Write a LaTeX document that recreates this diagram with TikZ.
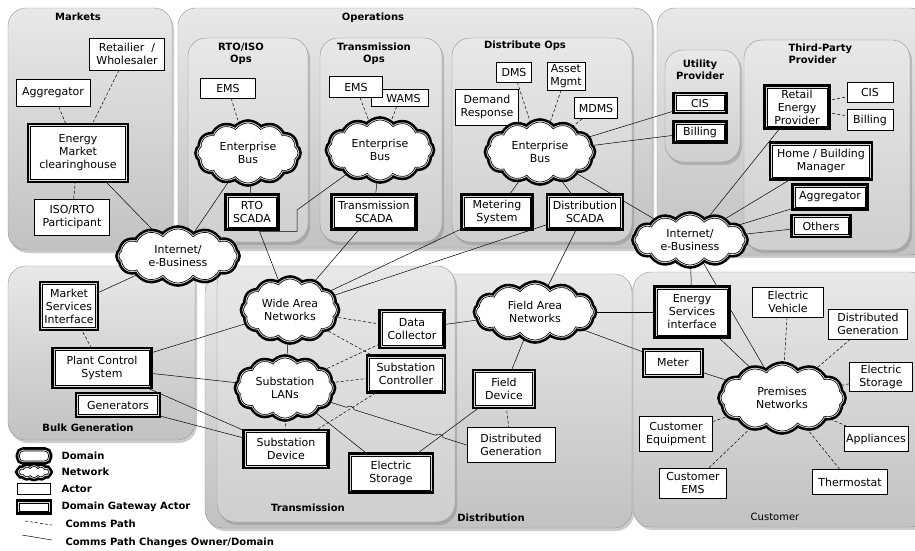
\documentclass[tikz,border=0pt]{standalone}
\usepackage{fontspec}
\setmainfont{DejaVu Sans}
\usetikzlibrary{shapes.symbols,shadows,calc}
\pgfdeclarelayer{domains}
\pgfdeclarelayer{paths}
\pgfsetlayers{domains,paths,main}
\begin{document}
\begin{tikzpicture}[x=1pt,y=-1pt,
    font=\fontsize{11}{13}\selectfont,
    domainbox/.style={rounded corners=18pt,draw=gray!85,top color=gray!18,bottom color=gray!48,
      drop shadow={opacity=.4,shadow xshift=2pt,shadow yshift=-3pt}},
    subbox/.style={domainbox,top color=gray!18,bottom color=gray!38},
    domaintitle/.style={font=\fontsize{10}{12}\selectfont\bfseries,align=center},
    sz/.style 2 args={minimum width=#1pt,minimum height=#2pt},
    actorbox/.style={draw,fill=white,align=center,inner sep=1pt,line width=.6pt},
    gatewaybox/.style={actorbox,preaction={draw,line width=7.6pt},preaction={draw,gray!30,line width=2.4pt}},
    netcloud/.style={gatewaybox,cloud,cloud puffs=12,cloud puff arc=110,cloud ignores aspect,inner sep=0pt},
    commspath/.style={densely dashed,line width=.5pt},
    ownerpath/.style={line width=.5pt}]
  \useasboundingbox (0,0) rectangle (915,550);
  \begin{pgfonlayer}{domains}
    \fill[white] (0,0) rectangle (915,550);
    \path[domainbox] (8,8) rectangle (172,250);
    \path[domainbox] (178,8) rectangle (652,248);
    \path[subbox] (188,38) rectangle (308,242);
    \path[subbox] (320,38) rectangle (442,242);
    \path[subbox] (452,38) rectangle (632,242);
    \path[domainbox] (657,8) rectangle (928,255);
    \path[subbox] (665,50) rectangle (740,162);
    \path[subbox] (744,40) rectangle (910,250);
    \path[domainbox] (8,266) rectangle (195,440);
    \path[domainbox] (205,274) rectangle (632,528);
    \path[subbox] (217,266) rectangle (455,522);
    \path[domainbox] (633,272) rectangle (928,527);
  \end{pgfonlayer}
  \node[domaintitle] at (78,17) {Markets};
  \node[domaintitle] at (373,18) {Operations};
  \node[domaintitle] at (241,54) {RTO/ISO\\Ops};
  \node[domaintitle] at (374,54) {Transmission\\Ops};
  \node[domaintitle] at (525,46) {Distribute Ops};
  \node[domaintitle] at (700,70) {Utility\\Provider};
  \node[domaintitle,align=left,anchor=west] at (785,54) {Third-Party\\Provider};
  \node[domaintitle] at (88,428) {Bulk Generation};
  \node[domaintitle] at (308,508) {Transmission};
  \node[domaintitle] at (491,518) {Distribution};
  \node[font=\fontsize{10}{12}\selectfont] at (775,517) {Customer};
  % markets
  \node[actorbox,sz={75}{32}] (retailer) at (127,54) {Retailier\ \ /\\Wholesaler};
  \node[actorbox,sz={74}{27}] (magg) at (53,93) {Aggregator};
  \node[gatewaybox,sz={95}{53}] (emc) at (78,153) {Energy\\Market\\clearinghouse};
  \node[actorbox,sz={75}{36}] (isorto) at (72,217) {ISO/RTO\\Participant};
  % operations
  \node[actorbox,sz={55}{20}] (rems) at (228,88) {EMS};
  \node[netcloud,sz={100}{60}] (rbus) at (248,153) {Enterprise\\Bus};
  \node[gatewaybox,sz={48}{30}] (rscada) at (252,212) {RTO\\SCADA};
  \node[actorbox,sz={57}{17}] (wams) at (400,98) {\ \ WAMS};
  \node[actorbox,sz={53}{21}] (tems) at (356,87) {EMS};
  \node[netcloud,sz={103}{60}] (tbus) at (380,150) {Enterprise\\Bus};
  \node[gatewaybox,sz={80}{30}] (tscada) at (374,212) {Transmission\\SCADA};
  \node[actorbox,sz={35}{20}] (dms) at (514,72) {DMS};
  \node[actorbox,sz={38}{28}] (asset) at (566,76) {Asset\\Mgmt};
  \node[actorbox,sz={63}{36}] (dr) at (487,107) {Demand\\Response};
  \node[actorbox,sz={43}{21}] (mdms) at (596,108) {MDMS};
  \node[netcloud,sz={105}{60}] (dbus) at (540,152) {Enterprise\\Bus};
  \node[gatewaybox,sz={66}{30}] (metering) at (497,212) {Metering\\System};
  \node[gatewaybox,sz={71}{30}] (dscada) at (585,212) {Distribution\\SCADA};
  % service providers
  \node[gatewaybox,sz={48}{15}] (ucis) at (700,103) {CIS};
  \node[gatewaybox,sz={48}{16}] (ubill) at (700,132) {Billing};
  \node[gatewaybox,sz={60}{38}] (rep) at (797,107) {Retail\\Energy\\Provider};
  \node[actorbox,sz={46}{20}] (tcis) at (870,92) {CIS};
  \node[actorbox,sz={46}{21}] (tbill) at (870,120) {Billing};
  \node[gatewaybox,sz={97}{32}] (hbm) at (821,161) {Home / Building\\Manager};
  \node[gatewaybox,sz={70}{20}] (tagg) at (830,197) {Aggregator};
  \node[gatewaybox,sz={54}{17}] (others) at (821,226) {Others};
  \node[netcloud,sz={110}{50}] (rnet) at (690,240) {Internet/\\e-Business};
  \node[netcloud,sz={118}{54}] (lnet) at (178,256) {Internet/\\e-Business};
  % bulk generation
  \node[gatewaybox,sz={53}{43}] (msi) at (69,306) {Market\\Services\\Interface};
  \node[gatewaybox,sz={94}{35}] (pcs) at (102,368) {Plant Control\\System};
  \node[gatewaybox,sz={79}{19}] (gens) at (118,405) {Generators};
  % transmission
  \node[netcloud,sz={93}{62}] (wan) at (290,310) {Wide Area\\Networks};
  \node[netcloud,sz={95}{60}] (lans) at (285,388) {Substation\\LANs};
  \node[gatewaybox,sz={60}{33}] (dc) at (412,329) {Data\\Collector};
  \node[gatewaybox,sz={73}{32}] (sctrl) at (406,374) {Substation\\Controller};
  \node[gatewaybox,sz={80}{33}] (sdev) at (286,449) {Substation\\Device};
  \node[gatewaybox,sz={79}{34}] (tstor) at (391,473) {Electric\\Storage};
  % distribution
  \node[netcloud,sz={117}{56}] (fan) at (535,312) {Field Area\\Networks};
  \node[gatewaybox,sz={57}{33}] (fdev) at (504,389) {Field\\Device};
  \node[actorbox,sz={88}{35}] (ddg) at (511,445) {Distributed\\Generation};
  % customer
  \node[gatewaybox,sz={70}{46}] (esi) at (692,312) {Energy\\Services\\interface};
  \node[gatewaybox,sz={55}{23}] (meter) at (673,363) {Meter};
  \node[netcloud,sz={122}{66}] (prem) at (782,398) {Premises\\Networks};
  \node[actorbox,sz={71}{30}] (ev) at (788,302) {Electric\\Vehicle};
  \node[actorbox,sz={79}{30}] (cdg) at (868,324) {Distributed\\Generation};
  \node[actorbox,sz={63}{29}] (cstor) at (881,377) {Electric\\Storage};
  \node[actorbox,sz={73}{35}] (ceq) at (676,434) {Customer\\Equipment};
  \node[actorbox,sz={64}{25}] (appl) at (876,439) {Appliances};
  \node[actorbox,sz={67}{30}] (cems) at (693,483) {Customer\\EMS};
  \node[actorbox,sz={75}{25}] (thermo) at (850,482) {Thermostat};
  % legend
  \node[gatewaybox,rounded corners=4pt,sz={29}{10}] (lgdomain) at (34,456) {};
  \node[netcloud,sz={30}{11}] (lgnet) at (34,472) {};
  \node[actorbox,sz={33}{11}] (lgactor) at (34,489) {};
  \node[gatewaybox,sz={29}{8}] (lggate) at (34,507) {};
  \coordinate (lgc1) at (25,521);
  \coordinate (lgc2) at (52,525);
  \coordinate (lgo1) at (22,535);
  \coordinate (lgo2) at (52,540);
  \begin{scope}[domaintitle,anchor=west]
    \node at (58,456) {Domain};
    \node at (58,472) {Network};
    \node at (58,489) {Actor};
    \node at (58,507) {Domain Gateway Actor};
    \node at (62,524) {Comms Path};
    \node at (62,543) {Comms Path Changes Owner/Domain};
  \end{scope}
  \begin{pgfonlayer}{paths}
    \draw[commspath] (lgc1) -- (lgc2);
    \draw[ownerpath] (lgo1) -- (lgo2);
    \foreach \a in {magg,retailer,isorto} \draw[commspath] (\a) -- (emc);
    \draw[ownerpath] (emc) -- (lnet);
    \draw[commspath] (rems) -- (rbus);
    \draw[ownerpath] (rbus) -- (rscada);
    \draw[ownerpath] (rbus) -- (lnet);
    \draw[ownerpath] (rscada) -- (wan);
    \draw[ownerpath] (tbus) -- (297,210) |- ($(rscada.south)+(8,4)$);
    \draw[commspath] (tems) -- (tbus);
    \draw[commspath] (wams) -- (tbus);
    \draw[ownerpath] (tbus) -- (tscada);
    \draw[ownerpath] (tscada) -- (wan);
    \foreach \a in {dms,asset,dr,mdms} \draw[commspath] (\a) -- (dbus);
    \foreach \a in {metering,dscada,ucis,ubill,rnet} \draw[ownerpath] (dbus) -- (\a);
    \draw[ownerpath] (metering) -- (wan);
    \draw[ownerpath] (dscada) -- (wan);
    \draw[ownerpath] (dscada) -- (fan);
    \draw[commspath] (rep) -- (tcis);
    \draw[commspath] (rep) -- (tbill);
    \foreach \a in {rep,hbm,tagg,others,esi,prem} \draw[ownerpath] (rnet) -- (\a);
    \draw[ownerpath] (lnet) -- (msi);
    \draw[commspath] (msi) -- (pcs);
    \foreach \a in {wan,lans,sdev} \draw[ownerpath] (pcs) -- (\a);
    \draw[ownerpath] (gens) -- (sdev);
    \draw[ownerpath] (wan) -- (lans);
    \draw[commspath] (wan) -- (dc);
    \draw[commspath] (wan) -- (sctrl);
    \draw[commspath] (lans) -- (dc);
    \draw[commspath] (lans) -- (sctrl);
    \draw[commspath] (lans) -- (sdev);
    \draw[commspath] (sctrl) -- (sdev);
    \draw[ownerpath] (lans) -- (tstor);
    \draw[ownerpath] (lans) -- ($(lans)!.34!(ddg.west)$) to[bend left=90] ($(lans)!.38!(ddg.west)$)
      -- ($(lans)!.83!(ddg.west)$) to[bend left=90] ($(lans)!.87!(ddg.west)$) -- (ddg.west);
    \draw[ownerpath] (tstor) -- (fdev);
    \draw[ownerpath] (fan) -- (dc);
    \draw[ownerpath] (fan) -- (fdev);
    \draw[commspath] (fdev) -- (ddg);
    \draw[ownerpath] (fan) -- (esi);
    \draw[ownerpath] (fan) -- (meter);
    \draw[ownerpath] (esi) -- (prem);
    \draw[ownerpath] (meter) -- (prem);
    \foreach \a in {ev,cdg,cstor,ceq,appl,cems,thermo} \draw[commspath] (\a) -- (prem);
  \end{pgfonlayer}
\end{tikzpicture}
\end{document}
